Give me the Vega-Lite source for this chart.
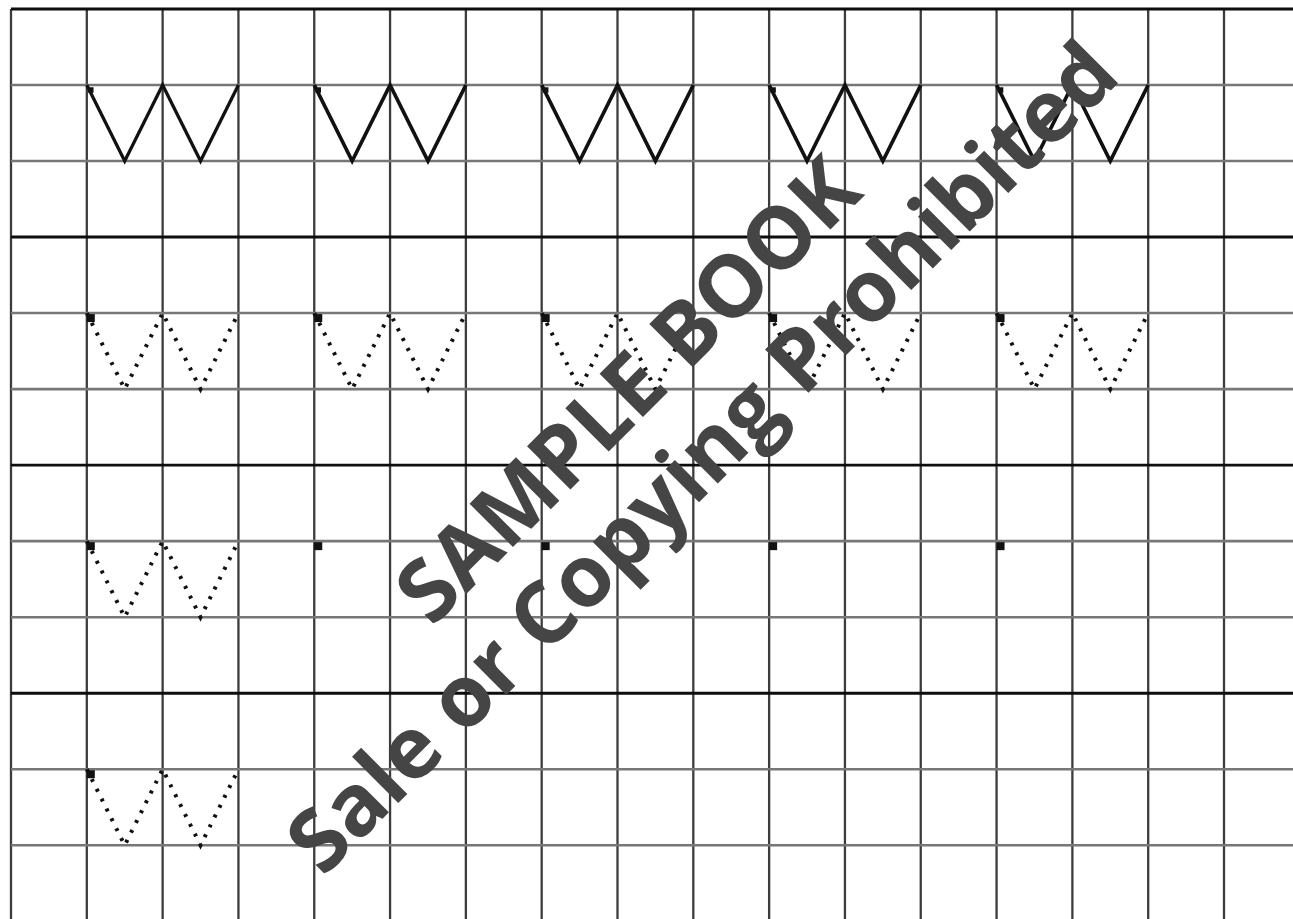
{
  "$schema": "https://vega.github.io/schema/vega-lite/v6.json",
  "width": 1293,
  "height": 919,
  "autosize": {"type": "fit", "contains": "padding"},
  "padding": 0,
  "background": "white",
  "config": {"view": {"stroke": null}},
  "datasets": {
    "vlines": [{"col":0},{"col":1},{"col":2},{"col":3},{"col":4},{"col":5},{"col":6},{"col":7},{"col":8},{"col":9},{"col":10},{"col":11},{"col":12},{"col":13},{"col":14},{"col":15},{"col":16},{"col":17}],
    "hlines": [
      {"row":0,"weight":"thick"},{"row":1,"weight":"thin"},{"row":2,"weight":"thin"},
      {"row":3,"weight":"thick"},{"row":4,"weight":"thin"},{"row":5,"weight":"thin"},
      {"row":6,"weight":"thick"},{"row":7,"weight":"thin"},{"row":8,"weight":"thin"},
      {"row":9,"weight":"thick"},{"row":10,"weight":"thin"},{"row":11,"weight":"thin"},
      {"row":12,"weight":"thick"}
    ],
    "strokes": [
      {"letter":"s1","kind":"solid-bold","order":1,"col":1,"row":1},{"letter":"s1","kind":"solid-bold","order":2,"col":1.5,"row":2},{"letter":"s1","kind":"solid-bold","order":3,"col":2,"row":1},{"letter":"s1","kind":"solid-bold","order":4,"col":2.5,"row":2},{"letter":"s1","kind":"solid-bold","order":5,"col":3,"row":1},
      {"letter":"s2","kind":"solid","order":1,"col":4,"row":1},{"letter":"s2","kind":"solid","order":2,"col":4.5,"row":2},{"letter":"s2","kind":"solid","order":3,"col":5,"row":1},{"letter":"s2","kind":"solid","order":4,"col":5.5,"row":2},{"letter":"s2","kind":"solid","order":5,"col":6,"row":1},
      {"letter":"s3","kind":"solid","order":1,"col":7,"row":1},{"letter":"s3","kind":"solid","order":2,"col":7.5,"row":2},{"letter":"s3","kind":"solid","order":3,"col":8,"row":1},{"letter":"s3","kind":"solid","order":4,"col":8.5,"row":2},{"letter":"s3","kind":"solid","order":5,"col":9,"row":1},
      {"letter":"s4","kind":"solid","order":1,"col":10,"row":1},{"letter":"s4","kind":"solid","order":2,"col":10.5,"row":2},{"letter":"s4","kind":"solid","order":3,"col":11,"row":1},{"letter":"s4","kind":"solid","order":4,"col":11.5,"row":2},{"letter":"s4","kind":"solid","order":5,"col":12,"row":1},
      {"letter":"s5","kind":"solid","order":1,"col":13,"row":1},{"letter":"s5","kind":"solid","order":2,"col":13.5,"row":2},{"letter":"s5","kind":"solid","order":3,"col":14,"row":1},{"letter":"s5","kind":"solid","order":4,"col":14.5,"row":2},{"letter":"s5","kind":"solid","order":5,"col":15,"row":1},
      {"letter":"d1","kind":"dotted","order":1,"col":1,"row":4},{"letter":"d1","kind":"dotted","order":2,"col":1.5,"row":5},{"letter":"d1","kind":"dotted","order":3,"col":2,"row":4},{"letter":"d1","kind":"dotted","order":4,"col":2.5,"row":5},{"letter":"d1","kind":"dotted","order":5,"col":3,"row":4},
      {"letter":"d2","kind":"dotted","order":1,"col":4,"row":4},{"letter":"d2","kind":"dotted","order":2,"col":4.5,"row":5},{"letter":"d2","kind":"dotted","order":3,"col":5,"row":4},{"letter":"d2","kind":"dotted","order":4,"col":5.5,"row":5},{"letter":"d2","kind":"dotted","order":5,"col":6,"row":4},
      {"letter":"d3","kind":"dotted","order":1,"col":7,"row":4},{"letter":"d3","kind":"dotted","order":2,"col":7.5,"row":5},{"letter":"d3","kind":"dotted","order":3,"col":8,"row":4},{"letter":"d3","kind":"dotted","order":4,"col":8.5,"row":5},{"letter":"d3","kind":"dotted","order":5,"col":9,"row":4},
      {"letter":"d4","kind":"dotted","order":1,"col":10,"row":4},{"letter":"d4","kind":"dotted","order":2,"col":10.5,"row":5},{"letter":"d4","kind":"dotted","order":3,"col":11,"row":4},{"letter":"d4","kind":"dotted","order":4,"col":11.5,"row":5},{"letter":"d4","kind":"dotted","order":5,"col":12,"row":4},
      {"letter":"d5","kind":"dotted","order":1,"col":13,"row":4},{"letter":"d5","kind":"dotted","order":2,"col":13.5,"row":5},{"letter":"d5","kind":"dotted","order":3,"col":14,"row":4},{"letter":"d5","kind":"dotted","order":4,"col":14.5,"row":5},{"letter":"d5","kind":"dotted","order":5,"col":15,"row":4},
      {"letter":"d6","kind":"dotted","order":1,"col":1,"row":7},{"letter":"d6","kind":"dotted","order":2,"col":1.5,"row":8},{"letter":"d6","kind":"dotted","order":3,"col":2,"row":7},{"letter":"d6","kind":"dotted","order":4,"col":2.5,"row":8},{"letter":"d6","kind":"dotted","order":5,"col":3,"row":7},
      {"letter":"d7","kind":"dotted","order":1,"col":1,"row":10},{"letter":"d7","kind":"dotted","order":2,"col":1.5,"row":11},{"letter":"d7","kind":"dotted","order":3,"col":2,"row":10},{"letter":"d7","kind":"dotted","order":4,"col":2.5,"row":11},{"letter":"d7","kind":"dotted","order":5,"col":3,"row":10}
    ],
    "starts": [
      {"kind":"solid","col":1,"row":1},{"kind":"solid","col":4,"row":1},{"kind":"solid","col":7,"row":1},{"kind":"solid","col":10,"row":1},{"kind":"solid","col":13,"row":1},
      {"kind":"dotted","col":1,"row":4},{"kind":"dotted","col":4,"row":4},{"kind":"dotted","col":7,"row":4},{"kind":"dotted","col":10,"row":4},{"kind":"dotted","col":13,"row":4},
      {"kind":"dotted","col":1,"row":7},{"kind":"dotted","col":4,"row":7},{"kind":"dotted","col":7,"row":7},{"kind":"dotted","col":10,"row":7},{"kind":"dotted","col":13,"row":7},
      {"kind":"dotted","col":1,"row":10}
    ],
    "watermark": [
      {"label":"SAMPLE BOOK","col":8.17,"row":5.05},
      {"label":"Sale or Copying Prohibited","col":9.15,"row":5.93}
    ]
  },
  "encoding": {},
  "layer": [
    {
      "data": {"name": "vlines"},
      "mark": {"type": "rule", "color": "#3c3c3c", "strokeWidth": 2.3, "clip": true},
      "encoding": {
        "x": {"field": "col", "type": "quantitative", "scale": {"domain": [-0.145, 16.91], "nice": false, "zero": false}, "axis": null},
        "y": {"datum": 0, "type": "quantitative", "scale": {"domain": [-0.118, 11.97], "nice": false, "zero": false, "reverse": true}, "axis": null},
        "y2": {"datum": 12}
      }
    },
    {
      "data": {"name": "hlines"},
      "mark": {"type": "rule", "clip": true},
      "encoding": {
        "y": {"field": "row", "type": "quantitative", "axis": null},
        "x": {"datum": 0, "type": "quantitative"},
        "x2": {"datum": 17},
        "strokeWidth": {"field": "weight", "type": "nominal", "scale": {"domain": ["thin", "thick"], "range": [2.6, 4]}, "legend": null},
        "color": {"field": "weight", "type": "nominal", "scale": {"domain": ["thin", "thick"], "range": ["#777777", "#0d0d0d"]}, "legend": null}
      }
    },
    {
      "data": {"name": "strokes"},
      "mark": {"type": "line", "color": "#111111", "strokeJoin": "miter", "clip": true},
      "encoding": {
        "x": {"field": "col", "type": "quantitative"},
        "y": {"field": "row", "type": "quantitative"},
        "detail": {"field": "letter"},
        "order": {"field": "order", "type": "quantitative"},
        "strokeWidth": {"field": "kind", "type": "nominal", "scale": {"domain": ["solid-bold", "solid", "dotted"], "range": [4.5, 2.8, 3]}, "legend": null},
        "strokeDash": {"field": "kind", "type": "nominal", "scale": {"domain": ["solid-bold", "solid", "dotted"], "range": [[1, 0], [1, 0], [3, 8]]}, "legend": null}
      }
    },
    {
      "data": {"name": "starts"},
      "mark": {"type": "point", "shape": "square", "filled": true, "color": "#111111", "opacity": 1, "xOffset": 4, "yOffset": 5},
      "encoding": {
        "x": {"field": "col", "type": "quantitative"},
        "y": {"field": "row", "type": "quantitative"},
        "size": {"field": "kind", "type": "nominal", "scale": {"domain": ["solid", "dotted"], "range": [30, 64]}, "legend": null}
      }
    },
    {
      "data": {"name": "watermark"},
      "mark": {"type": "text", "angle": -45, "align": "center", "baseline": "middle", "font": "Open Sans", "fontWeight": "bold", "fontSize": 86, "color": "#454545"},
      "encoding": {
        "x": {"field": "col", "type": "quantitative"},
        "y": {"field": "row", "type": "quantitative"},
        "text": {"field": "label"}
      }
    }
  ]
}
